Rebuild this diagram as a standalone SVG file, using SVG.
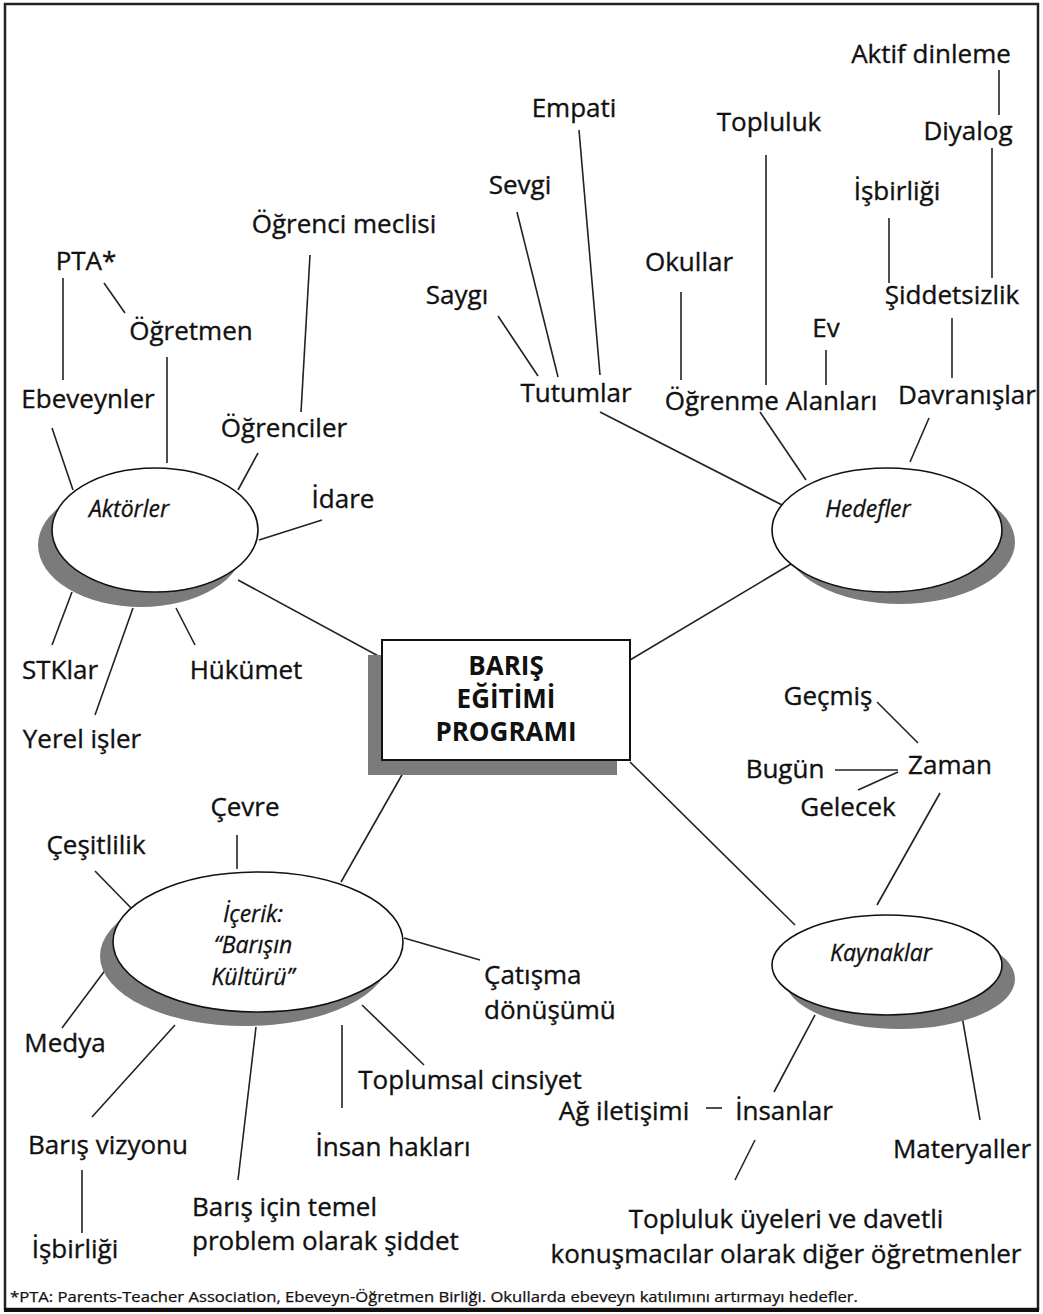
<svg xmlns="http://www.w3.org/2000/svg" width="1043" height="1314" viewBox="0 0 1043 1314">
<style>
.t{font-family:"Open Sans","Noto Sans","DejaVu Sans",sans-serif;font-size:26px;fill:#111;stroke:#111;stroke-width:0.35;}
.m{text-anchor:middle;}
.it{font-family:"Open Sans","Noto Sans","DejaVu Sans",sans-serif;font-size:23px;font-style:italic;fill:#111;stroke:#111;stroke-width:0.3;text-anchor:middle;}
.b{font-family:"Open Sans","Noto Sans","DejaVu Sans",sans-serif;font-size:26px;font-weight:bold;fill:#111;text-anchor:middle;}
.fn{font-family:"Open Sans","Noto Sans","DejaVu Sans",sans-serif;font-size:14px;fill:#111;stroke:#111;stroke-width:0.25;}
.sh{fill:#7b7b7b;}
.el{fill:#fff;stroke:#111;stroke-width:1.6;}
.ln line{stroke:#222;stroke-width:1.6;}
</style>
<rect x="0" y="0" width="1043" height="1314" fill="#fff"/>
<rect x="5" y="4" width="1033" height="1305" fill="none" stroke="#222" stroke-width="2.5"/>
<line x1="4" y1="1310" x2="1039" y2="1310" stroke="#111" stroke-width="4"/>

<g id="connectors" class="ln">
<line x1="999" y1="70" x2="999" y2="115"/>
<line x1="992" y1="148" x2="992" y2="278"/>
<line x1="889" y1="218" x2="889" y2="283"/>
<line x1="952" y1="318" x2="952" y2="378"/>
<line x1="929" y1="418" x2="910" y2="462"/>
<line x1="766" y1="155" x2="766" y2="385"/>
<line x1="681" y1="292" x2="681" y2="380"/>
<line x1="826" y1="350" x2="826" y2="385"/>
<line x1="760" y1="412" x2="806" y2="480"/>
<line x1="579" y1="130" x2="600" y2="375"/>
<line x1="517" y1="212" x2="558" y2="377"/>
<line x1="498" y1="316" x2="538" y2="376"/>
<line x1="600" y1="412" x2="786" y2="507"/>
<line x1="796" y1="561" x2="630" y2="660"/>
<line x1="63" y1="278" x2="63" y2="380"/>
<line x1="104" y1="283" x2="125" y2="313"/>
<line x1="167" y1="357" x2="167" y2="463"/>
<line x1="310" y1="255" x2="301" y2="412"/>
<line x1="52" y1="428" x2="73" y2="490"/>
<line x1="258" y1="453" x2="238" y2="490"/>
<line x1="322" y1="520" x2="259" y2="540"/>
<line x1="238" y1="580" x2="382" y2="658"/>
<line x1="72" y1="592" x2="52" y2="645"/>
<line x1="133" y1="608" x2="95" y2="715"/>
<line x1="176" y1="608" x2="195" y2="645"/>
<line x1="403" y1="773" x2="341" y2="882"/>
<line x1="237" y1="835" x2="237" y2="869"/>
<line x1="95" y1="871" x2="133" y2="910"/>
<line x1="115" y1="957" x2="62" y2="1028"/>
<line x1="175" y1="1025" x2="92" y2="1117"/>
<line x1="82" y1="1170" x2="82" y2="1233"/>
<line x1="256" y1="1027" x2="238" y2="1180"/>
<line x1="342" y1="1025" x2="342" y2="1108"/>
<line x1="362" y1="1005" x2="424" y2="1065"/>
<line x1="404" y1="938" x2="480" y2="960"/>
<line x1="630" y1="762" x2="795" y2="925"/>
<line x1="877" y1="702" x2="918" y2="743"/>
<line x1="835" y1="770" x2="898" y2="770"/>
<line x1="858" y1="790" x2="898" y2="772"/>
<line x1="940" y1="793" x2="877" y2="905"/>
<line x1="815" y1="1015" x2="774" y2="1092"/>
<line x1="962" y1="1016" x2="980" y2="1120"/>
<line x1="706" y1="1108" x2="722" y2="1108"/>
<line x1="755" y1="1140" x2="735" y2="1180"/>
</g>

<g id="center">
<rect x="368" y="655" width="249" height="120" class="sh"/>
<rect x="382" y="640" width="248" height="120" fill="#fff" stroke="#111" stroke-width="2"/>
<text class="b" x="506" y="675">BARIŞ</text>
<text class="b" x="506" y="708">EĞİTİMİ</text>
<text class="b" x="506" y="741">PROGRAMI</text>
</g>

<g id="aktorler">
<ellipse cx="141" cy="545" rx="103" ry="62" class="sh"/>
<ellipse cx="155" cy="530" rx="103" ry="62" class="el"/>
<text class="it" x="129" y="517">Aktörler</text>
</g>

<g id="hedefler">
<ellipse cx="900" cy="542" rx="115" ry="62" class="sh"/>
<ellipse cx="887" cy="530" rx="115" ry="62" class="el"/>
<text class="it" x="868" y="517">Hedefler</text>
</g>

<g id="icerik">
<ellipse cx="245" cy="956" rx="145" ry="70" class="sh"/>
<ellipse cx="258" cy="942" rx="145" ry="70" class="el"/>
<text class="it" x="253" y="922">İçerik:</text>
<text class="it" x="253" y="953">“Barışın</text>
<text class="it" x="253" y="985">Kültürü”</text>
</g>

<g id="kaynaklar">
<ellipse cx="900" cy="979" rx="115" ry="50" class="sh"/>
<ellipse cx="887" cy="965" rx="115" ry="50" class="el"/>
<text class="it" x="881" y="961">Kaynaklar</text>
</g>

<g id="hedefler-labels">
<text class="t m" x="931" y="63">Aktif dinleme</text>
<text class="t m" x="968" y="140">Diyalog</text>
<text class="t m" x="897" y="200">İşbirliği</text>
<text class="t m" x="952" y="304">Şiddetsizlik</text>
<text class="t m" x="967" y="404">Davranışlar</text>
<text class="t m" x="769" y="131">Topluluk</text>
<text class="t m" x="689" y="271">Okullar</text>
<text class="t m" x="826" y="337">Ev</text>
<text class="t m" x="771" y="410">Öğrenme Alanları</text>
<text class="t m" x="574" y="117">Empati</text>
<text class="t m" x="520" y="194">Sevgi</text>
<text class="t m" x="457" y="304">Saygı</text>
<text class="t m" x="576" y="402">Tutumlar</text>
</g>

<g id="aktorler-labels">
<text class="t m" x="344" y="233">Öğrenci meclisi</text>
<text class="t m" x="86" y="270">PTA*</text>
<text class="t m" x="191" y="340">Öğretmen</text>
<text class="t m" x="88" y="408">Ebeveynler</text>
<text class="t m" x="284" y="437">Öğrenciler</text>
<text class="t m" x="343" y="508">İdare</text>
<text class="t m" x="60" y="679">STKlar</text>
<text class="t m" x="246" y="679">Hükümet</text>
<text class="t m" x="82" y="748">Yerel işler</text>
</g>

<g id="kaynaklar-labels">
<text class="t m" x="828" y="705">Geçmiş</text>
<text class="t m" x="950" y="774">Zaman</text>
<text class="t m" x="785" y="778">Bugün</text>
<text class="t m" x="848" y="816">Gelecek</text>
<text class="t m" x="624" y="1120">Ağ iletişimi</text>
<text class="t m" x="784" y="1120">İnsanlar</text>
<text class="t m" x="962" y="1158">Materyaller</text>
<text class="t m" x="786" y="1228">Topluluk üyeleri ve davetli</text>
<text class="t m" x="786" y="1263">konuşmacılar olarak diğer öğretmenler</text>
</g>

<g id="icerik-labels">
<text class="t m" x="245" y="816">Çevre</text>
<text class="t m" x="96" y="854">Çeşitlilik</text>
<text class="t m" x="65" y="1052">Medya</text>
<text class="t" x="484" y="984">Çatışma</text>
<text class="t" x="484" y="1019">dönüşümü</text>
<text class="t m" x="470" y="1089">Toplumsal cinsiyet</text>
<text class="t m" x="393" y="1156">İnsan hakları</text>
<text class="t m" x="108" y="1154">Barış vizyonu</text>
<text class="t m" x="75" y="1258">İşbirliği</text>
<text class="t" x="192" y="1216">Barış için temel</text>
<text class="t" x="192" y="1250">problem olarak şiddet</text>
</g>

<text class="fn" x="10" y="1302" textLength="848" lengthAdjust="spacingAndGlyphs">*PTA: Parents-Teacher Association, Ebeveyn-Öğretmen Birliği. Okullarda ebeveyn katılımını artırmayı hedefler.</text>
</svg>
